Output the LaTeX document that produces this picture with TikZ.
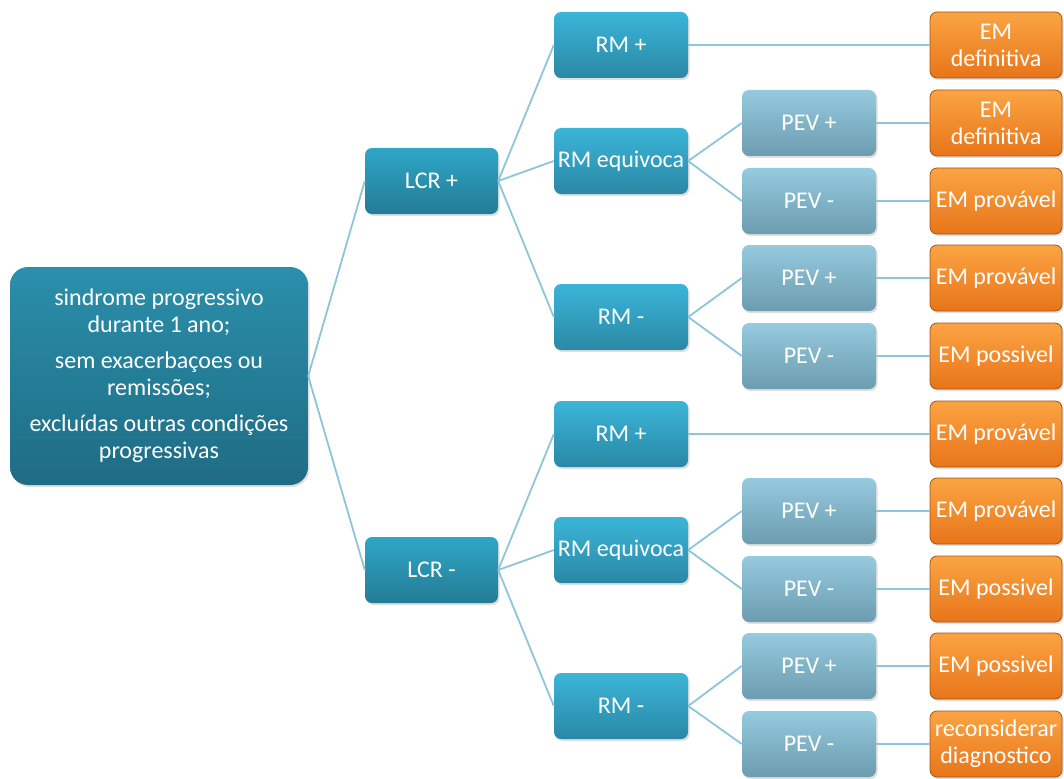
\documentclass[tikz,border=0pt]{standalone}
\usepackage{fontspec}
\setmainfont{Carlito}
\usetikzlibrary{shadows}
\definecolor{rootT}{HTML}{2B8FAB}
\definecolor{rootB}{HTML}{1E6C84}
\definecolor{lcrT}{HTML}{2FA6C6}
\definecolor{lcrB}{HTML}{237C95}
\definecolor{rmT}{HTML}{3BB5D8}
\definecolor{rmB}{HTML}{2A88A5}
\definecolor{pevT}{HTML}{96CADF}
\definecolor{pevB}{HTML}{6C9CAF}
\definecolor{emT}{HTML}{FBA443}
\definecolor{emB}{HTML}{E8751A}
\definecolor{emD}{HTML}{A65512}
\definecolor{link}{HTML}{8DC5D9}
\tikzset{
  box/.style={rectangle, rounded corners=7pt, text=white, align=center,
    font=\fontsize{24}{27}\selectfont, inner sep=0pt,
    drop shadow={opacity=0.25, shadow xshift=1.5pt, shadow yshift=-2pt}},
  rootbox/.style={box, rounded corners=18pt, top color=rootT, bottom color=rootB,
    minimum width=298pt, minimum height=218pt, font=\fontsize{24}{27}\selectfont},
  lcrbox/.style={box, top color=lcrT, bottom color=lcrB, minimum width=133pt, minimum height=66pt},
  rmbox/.style={box, top color=rmT, bottom color=rmB, minimum width=134pt, minimum height=66pt},
  pevbox/.style={box, top color=pevT, bottom color=pevB, minimum width=134pt, minimum height=66pt},
  embox/.style={box, top color=emT, bottom color=emB, draw=emD, line width=0.8pt,
    minimum width=132pt, minimum height=66pt},
  conn/.style={draw=link, line width=1.8pt},
}
\begin{document}
\begin{tikzpicture}[x=1pt, y=-1pt]
\useasboundingbox (0,0) rectangle (1064,778);
\node[rootbox] (root) at (159,376) {sindrome progressivo\\durante 1 ano;\\[9pt]sem exacerbaçoes ou\\remissões;\\[9pt]excluídas outras condições\\progressivas};
\node[lcrbox] (lcrp) at (431.5,181) {LCR +};
\node[lcrbox] (lcrm) at (431.5,570) {LCR -};
% upper branch
\node[rmbox] (rmp1) at (621,45) {RM +};
\node[rmbox] (rme1) at (621,161) {RM equivoca};
\node[rmbox] (rmm1) at (621,317) {RM -};
\node[pevbox] (pevp1) at (809,123) {PEV +};
\node[pevbox] (pevm1) at (809,201) {PEV -};
\node[pevbox] (pevp2) at (809,278) {PEV +};
\node[pevbox] (pevm2) at (809,356) {PEV -};
\node[embox] (em1) at (996,45) {EM\\definitiva};
\node[embox] (em2) at (996,123) {EM\\definitiva};
\node[embox] (em3) at (996,201) {EM provável};
\node[embox] (em4) at (996,278) {EM provável};
\node[embox] (em5) at (996,356) {EM possivel};
% lower branch
\node[rmbox] (rmp2) at (621,434) {RM +};
\node[rmbox] (rme2) at (621,550) {RM equivoca};
\node[rmbox] (rmm2) at (621,706) {RM -};
\node[pevbox] (pevp3) at (809,511) {PEV +};
\node[pevbox] (pevm3) at (809,589) {PEV -};
\node[pevbox] (pevp4) at (809,666) {PEV +};
\node[pevbox] (pevm4) at (809,744) {PEV -};
\node[embox] (em6) at (996,434) {EM provável};
\node[embox] (em7) at (996,511) {EM provável};
\node[embox] (em8) at (996,589) {EM possivel};
\node[embox] (em9) at (996,666) {EM possivel};
\node[embox] (em10) at (996,744) {reconsiderar\\diagnostico};
% connectors
\path[conn] (root.east) -- (lcrp.west);
\path[conn] (root.east) -- (lcrm.west);
\path[conn] (lcrp.east) -- (rmp1.west);
\path[conn] (lcrp.east) -- (rme1.west);
\path[conn] (lcrp.east) -- (rmm1.west);
\path[conn] (lcrm.east) -- (rmp2.west);
\path[conn] (lcrm.east) -- (rme2.west);
\path[conn] (lcrm.east) -- (rmm2.west);
\path[conn] (rmp1.east) -- (em1.west);
\path[conn] (rme1.east) -- (pevp1.west);
\path[conn] (rme1.east) -- (pevm1.west);
\path[conn] (rmm1.east) -- (pevp2.west);
\path[conn] (rmm1.east) -- (pevm2.west);
\path[conn] (pevp1.east) -- (em2.west);
\path[conn] (pevm1.east) -- (em3.west);
\path[conn] (pevp2.east) -- (em4.west);
\path[conn] (pevm2.east) -- (em5.west);
\path[conn] (rmp2.east) -- (em6.west);
\path[conn] (rme2.east) -- (pevp3.west);
\path[conn] (rme2.east) -- (pevm3.west);
\path[conn] (rmm2.east) -- (pevp4.west);
\path[conn] (rmm2.east) -- (pevm4.west);
\path[conn] (pevp3.east) -- (em7.west);
\path[conn] (pevm3.east) -- (em8.west);
\path[conn] (pevp4.east) -- (em9.west);
\path[conn] (pevm4.east) -- (em10.west);
\end{tikzpicture}
\end{document}
